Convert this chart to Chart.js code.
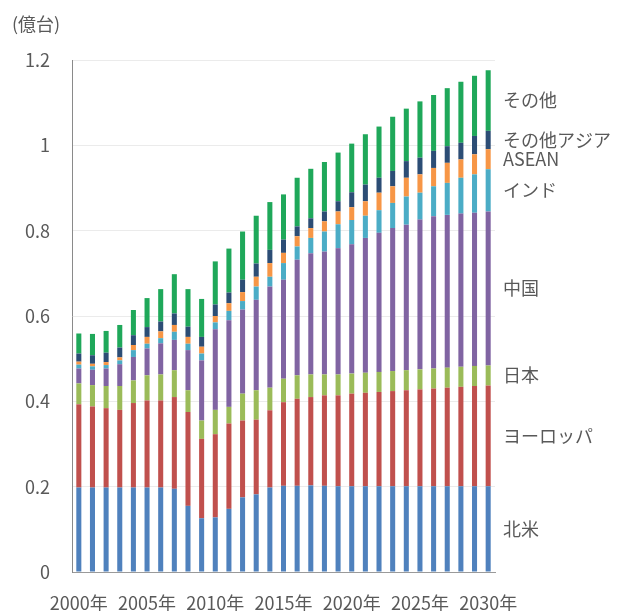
<!DOCTYPE html>
<html lang="ja">
<head>
<meta charset="utf-8">
<title>地域別自動車台数の推移</title>
<script src="https://cdn.jsdelivr.net/npm/chart.js@4.4.1/dist/chart.umd.min.js"></script>
<style>
  html, body { margin: 0; padding: 0; background: #ffffff; }
  #wrap { width: 618px; height: 611px; }
</style>
</head>
<body>
<div id="wrap"><canvas id="chart" width="618" height="611"></canvas></div>
<script>
// Years on the category axis (2000–2030)
const years = [
  '2000年','2001年','2002年','2003年','2004年','2005年','2006年','2007年','2008年','2009年',
  '2010年','2011年','2012年','2013年','2014年','2015年','2016年','2017年','2018年','2019年',
  '2020年','2021年','2022年','2023年','2024年','2025年','2026年','2027年','2028年','2029年',
  '2030年'
];

// Values per region, 億台
const northAmerica = [
  0.198, 0.198, 0.198, 0.198, 0.198, 0.198, 0.198, 0.195, 0.155, 0.126,
  0.128, 0.148, 0.175, 0.182, 0.198, 0.202, 0.202, 0.203, 0.202, 0.201,
  0.201, 0.201, 0.201, 0.201, 0.201, 0.201, 0.201, 0.201, 0.201, 0.201,
  0.201
];
const europe = [
  0.195, 0.190, 0.186, 0.182, 0.198, 0.204, 0.204, 0.215, 0.220, 0.186,
  0.195, 0.200, 0.180, 0.175, 0.181, 0.196, 0.204, 0.207, 0.212, 0.213,
  0.217, 0.219, 0.221, 0.223, 0.225, 0.227, 0.229, 0.231, 0.233, 0.235,
  0.236
];
const japan = [
  0.049, 0.050, 0.052, 0.056, 0.053, 0.059, 0.061, 0.063, 0.051, 0.043,
  0.057, 0.039, 0.063, 0.069, 0.053, 0.055, 0.055, 0.053, 0.049, 0.049,
  0.047, 0.047, 0.047, 0.047, 0.047, 0.047, 0.047, 0.047, 0.047, 0.047,
  0.047
];
const china = [
  0.035, 0.036, 0.041, 0.051, 0.055, 0.063, 0.073, 0.071, 0.094, 0.141,
  0.189, 0.203, 0.197, 0.212, 0.237, 0.232, 0.271, 0.284, 0.288, 0.296,
  0.303, 0.316, 0.326, 0.335, 0.341, 0.351, 0.357, 0.358, 0.359, 0.359,
  0.361
];
const india = [
  0.009, 0.008, 0.008, 0.009, 0.016, 0.011, 0.012, 0.019, 0.015, 0.016,
  0.016, 0.022, 0.020, 0.031, 0.023, 0.039, 0.031, 0.036, 0.047, 0.056,
  0.057, 0.052, 0.053, 0.059, 0.066, 0.063, 0.070, 0.075, 0.084, 0.090,
  0.099
];
const asean = [
  0.007, 0.006, 0.007, 0.007, 0.012, 0.016, 0.016, 0.016, 0.016, 0.016,
  0.015, 0.018, 0.021, 0.023, 0.032, 0.024, 0.024, 0.023, 0.024, 0.030,
  0.030, 0.034, 0.041, 0.039, 0.044, 0.043, 0.043, 0.047, 0.043, 0.047,
  0.047
];
const otherAsia = [
  0.019, 0.020, 0.022, 0.023, 0.023, 0.023, 0.023, 0.027, 0.024, 0.023,
  0.027, 0.025, 0.029, 0.031, 0.031, 0.031, 0.023, 0.023, 0.023, 0.024,
  0.035, 0.039, 0.035, 0.036, 0.039, 0.039, 0.040, 0.039, 0.039, 0.043,
  0.043
];
const others = [
  0.047, 0.050, 0.051, 0.053, 0.059, 0.068, 0.076, 0.092, 0.088, 0.089,
  0.101, 0.103, 0.113, 0.112, 0.112, 0.106, 0.114, 0.116, 0.116, 0.114,
  0.114, 0.118, 0.120, 0.127, 0.123, 0.132, 0.131, 0.136, 0.143, 0.141,
  0.142
];

// Y-axis tick labels
const yTickLabels = ['0', '0.2', '0.4', '0.6', '0.8', '1', '1.2'];

// Stack order, bottom to top
const series = [
  { label: '北米',         data: northAmerica, color: '#4f81bd' },
  { label: 'ヨーロッパ',   data: europe,       color: '#c0504d' },
  { label: '日本',         data: japan,        color: '#9bbb59' },
  { label: '中国',         data: china,        color: '#8064a2' },
  { label: 'インド',       data: india,        color: '#4bacc6' },
  { label: 'ASEAN',        data: asean,        color: '#f79646' },
  { label: 'その他アジア', data: otherAsia,    color: '#2c4d75' },
  { label: 'その他',       data: others,       color: '#1fa85a' }
];

const TEXT_COLOR = '#595959';
const FONT_FAMILY = "'Noto Sans CJK JP', 'Noto Sans', sans-serif";

Chart.defaults.font.family = FONT_FAMILY;
Chart.defaults.font.size = 18;
Chart.defaults.color = TEXT_COLOR;

// Unit caption and series names beside the last bar
const annotations = {
  id: 'annotations',
  afterDraw(chart) {
    const { ctx, chartArea } = chart;
    ctx.save();
    ctx.fillStyle = TEXT_COLOR;
    ctx.font = '18px ' + FONT_FAMILY;
    ctx.textBaseline = 'middle';
    ctx.textAlign = 'left';
    ctx.fillText('(億台)', 12, 24);

    const last = years.length - 1;
    chart.data.datasets.forEach((ds, i) => {
      const bar = chart.getDatasetMeta(i).data[last];
      const { y, base } = bar.getProps(['y', 'base'], true);
      ctx.fillText(ds.label, chartArea.right + 8, (y + base) / 2);
    });
    ctx.restore();
  }
};

new Chart(document.getElementById('chart'), {
  type: 'bar',
  data: {
    labels: years,
    datasets: series.map(s => ({
      label: s.label,
      data: s.data,
      backgroundColor: s.color,
      borderWidth: 0,
      categoryPercentage: 1.0,
      barPercentage: 0.37
    }))
  },
  options: {
    responsive: false,
    animation: false,
    layout: { padding: { top: 60, right: 123, left: 0, bottom: 0 } },
    plugins: {
      legend: { display: false },
      tooltip: { enabled: false }
    },
    scales: {
      x: {
        stacked: true,
        grid: { display: false, drawTicks: false },
        border: { display: true, color: '#9a9a9a', width: 1 },
        ticks: {
          autoSkip: false,
          maxRotation: 0,
          minRotation: 0,
          padding: 20,
          callback(value, index) {
            return index % 5 === 0 ? years[index] : '';
          }
        },
        afterFit(scale) { scale.height = 39; }
      },
      y: {
        stacked: true,
        min: 0,
        max: 1.2,
        grid: { color: '#ebebeb', lineWidth: 1, drawTicks: false },
        border: { display: true, color: '#8a8a8a', width: 1 },
        ticks: {
          stepSize: 0.2,
          padding: 22,
          callback(value, index) { return yTickLabels[index]; }
        },
        afterFit(scale) { scale.width = 72; }
      }
    }
  },
  plugins: [annotations]
});
</script>
</body>
</html>
